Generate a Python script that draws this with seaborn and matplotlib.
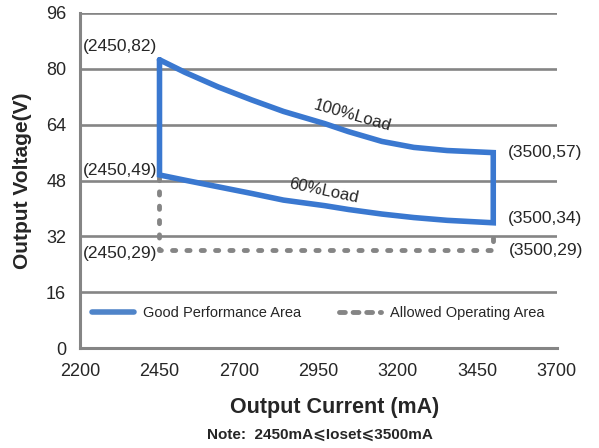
import numpy as np
import pandas as pd
import matplotlib
matplotlib.use("Agg")
import matplotlib.pyplot as plt
import seaborn as sns

# data
current_pts = [2450, 2530, 2635, 2740, 2840, 2970, 3045, 3150, 3250, 3355, 3500]
load100_v = [82.6, 79.0, 74.8, 71.1, 67.8, 64.3, 62.0, 59.2, 57.5, 56.6, 56.0]
load60_v = [49.6, 48.1, 46.2, 44.3, 42.4, 40.8, 39.7, 38.4, 37.4, 36.6, 35.9]
allowed_i = [2450, 2450, 3500, 3500]
allowed_v = [49, 28, 28, 34]
x_ticks = [2200, 2450, 2700, 2950, 3200, 3450, 3700]
y_ticks = [0, 16, 32, 48, 64, 80, 96]
corner_labels = ["(2450,82)", "(2450,49)", "(2450,29)",
                 "(3500,57)", "(3500,34)", "(3500,29)"]

sns.set_style("white")
plt.rcParams['font.family'] = ['Liberation Sans', 'DejaVu Sans']

BLUE = "#3a78d0"
GRAY = "#858585"

# closed outline of the good performance area
good_x = current_pts + [current_pts[-1]] + current_pts[::-1] + [current_pts[0]]
good_y = load100_v + [load60_v[-1]] + load60_v[::-1] + [load100_v[0]]
good = pd.DataFrame({"I": good_x, "V": good_y})
allowed = pd.DataFrame({"I": allowed_i, "V": allowed_v})

fig = plt.figure(figsize=(5.99, 4.48), dpi=100)
ax = fig.add_axes([0.1336, 0.223, 0.796, 0.748])

for yt in y_ticks[1:]:
    ax.axhline(yt, color=GRAY, lw=1.9, zorder=0)

sns.lineplot(data=allowed, x="I", y="V", sort=False, estimator=None, ax=ax,
             color=GRAY, lw=3.5, linestyle=(0, (0.65, 2.3)),
             dash_capstyle="round", label="Allowed Operating Area", zorder=2)
sns.lineplot(data=good, x="I", y="V", sort=False, estimator=None, ax=ax,
             color=BLUE, lw=4, label="Good Performance Area", zorder=3)
for ln in ax.lines:
    ln.set_solid_joinstyle("miter")

ax.set_xlim(2200, 3700)
ax.set_ylim(0, 96)
ax.set_xticks(x_ticks)
ax.set_yticks(y_ticks)
ax.tick_params(axis="x", direction="in", length=4, width=1.8, color=GRAY,
               labelsize=13, pad=11)
ax.tick_params(axis="y", length=0, labelsize=13, pad=10)
for s in ["top", "right"]:
    ax.spines[s].set_visible(False)
for s in ["left", "bottom"]:
    ax.spines[s].set_color(GRAY)
    ax.spines[s].set_linewidth(2.2)

ax.set_xlabel("Output Current (mA)", fontsize=15.5, fontweight="bold")
ax.xaxis.set_label_coords(0.535, -0.145)
ax.set_ylabel("Output Voltage(V)", fontsize=15, fontweight="bold", labelpad=10)

# corner annotations
fs = 12.5
ax.text(2326, 86.4, corner_labels[0], ha="center", va="center", fontsize=fs)
ax.text(2326, 51.0, corner_labels[1], ha="center", va="center", fontsize=fs)
ax.text(2326, 27.2, corner_labels[2], ha="center", va="center", fontsize=fs)
ax.text(3545, 55.9, corner_labels[3], ha="left", va="center", fontsize=fs,
        clip_on=False)
ax.text(3545, 37.2, corner_labels[4], ha="left", va="center", fontsize=fs,
        clip_on=False)
ax.text(3550, 28.0, corner_labels[5], ha="left", va="center", fontsize=fs,
        clip_on=False)

ax.text(3058, 66.5, "100%Load", ha="center", va="center", fontsize=12,
        rotation=-16)
ax.text(2968, 45.0, "60%Load", ha="center", va="center", fontsize=12,
        rotation=-12)

handles, labels = ax.get_legend_handles_labels()
order = [labels.index("Good Performance Area"), labels.index("Allowed Operating Area")]
leg = ax.legend([handles[i] for i in order], [labels[i] for i in order],
                ncol=2, frameon=False, loc="center left", borderpad=0,
                borderaxespad=0, bbox_to_anchor=(0.025, 0.104), fontsize=10.5,
                handlelength=2.9, columnspacing=2.6, handletextpad=0.6)
leg_lines = leg.get_lines()
leg_lines[0].set_solid_capstyle("round")
leg_lines[0].set_color("#4f84c9")
leg_lines[1].set_linestyle((0, (1.2, 1.6)))
leg_lines[1].set_dash_capstyle("round")

fig.text(0.534, 0.029, "Note:  2450mA\u2a7dIoset\u2a7d3500mA", ha="center",
         va="center", fontsize=11, fontweight="bold")

fig.savefig("out.png", dpi=100)
